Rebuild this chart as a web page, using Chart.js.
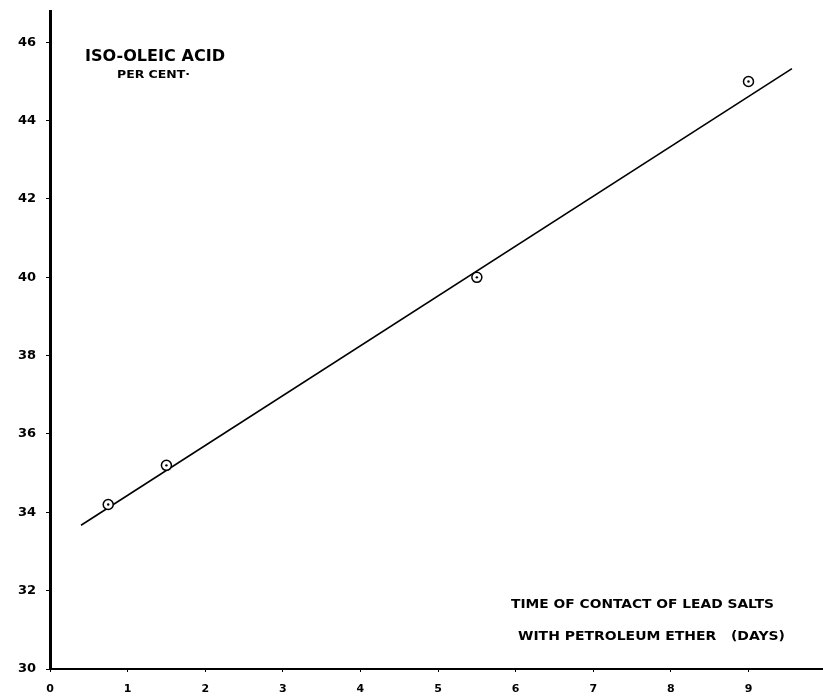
<!DOCTYPE html>
<html>
<head>
<meta charset="utf-8">
<script src="https://cdn.jsdelivr.net/npm/chart.js@4.4.1/dist/chart.umd.min.js"></script>
<style>
  html, body { margin: 0; padding: 0; background: #fff; }
</style>
</head>
<body>
<canvas id="chart" width="823" height="697"></canvas>
<script>
// measured points (days of contact vs per cent iso-oleic acid)
const days = [0.75, 1.5, 5.5, 9];
const isoOleic = [34.2, 35.2, 40.0, 45.0];

// hand-drawn straight line through the points
const fitDays = [0.4, 9.56];
const fitPct = [33.67, 45.33];

const xTicks = [0, 1, 2, 3, 4, 5, 6, 7, 8, 9];
const yTicks = [30, 32, 34, 36, 38, 40, 42, 44, 46];

const FONT = '"DejaVu Sans", sans-serif';

// text squeezed/stretched to the width it has on the drawing
function drawFitted(ctx, text, x, y, width, size, weight) {
    ctx.save();
    ctx.font = weight + " " + size + "px " + FONT;
    const w = ctx.measureText(text).width;
    ctx.translate(x, y);
    ctx.scale(width / w, 1);
    ctx.textAlign = "left";
    ctx.textBaseline = "middle";
    ctx.fillStyle = "#000";
    ctx.fillText(text, 0, 0);
    ctx.restore();
}

const notes = {
    id: "notes",
    afterDatasetsDraw(chart) {
        const ctx = chart.ctx;
        drawFitted(ctx, "ISO-OLEIC ACID", 85, 57, 140, 15, "bold");
        drawFitted(ctx, "PER CENT·", 117, 75, 73, 10, "bold");
        drawFitted(ctx, "TIME OF CONTACT OF LEAD SALTS", 511, 605, 263, 13, "600");
        drawFitted(ctx, "WITH PETROLEUM ETHER   (DAYS)", 518, 637, 267, 13, "600");
    }
};

const pts = days.map((d, i) => ({ x: d, y: isoOleic[i] }));
const fit = fitDays.map((d, i) => ({ x: d, y: fitPct[i] }));

new Chart(document.getElementById("chart"), {
    type: "scatter",
    data: {
        datasets: [
            {
                data: fit,
                showLine: true,
                borderColor: "#000",
                borderWidth: 1.6,
                pointRadius: 0,
                order: 3
            },
            {
                data: pts,
                pointRadius: 5,
                pointBorderWidth: 1.5,
                pointBorderColor: "#000",
                pointBackgroundColor: "#fff",
                order: 2
            },
            {
                data: pts,
                pointRadius: 1.2,
                pointBorderWidth: 0,
                pointBackgroundColor: "#000",
                order: 1
            }
        ]
    },
    options: {
        responsive: false,
        animation: false,
        layout: { autoPadding: false, padding: { top: 11, right: 0, left: 0, bottom: 0 } },
        plugins: { legend: { display: false }, tooltip: { enabled: false } },
        scales: {
            x: {
                type: "linear",
                min: 0,
                max: 9.96,
                afterBuildTicks: s => { s.ticks = xTicks.map(v => ({ value: v })); },
                afterFit: s => { s.height = 28; s.paddingLeft = 0; s.paddingRight = 0; },
                border: { display: true, color: "#000", width: 2 },
                grid: { drawOnChartArea: false, drawTicks: true, tickLength: 3, color: "#000" },
                ticks: { color: "#000", padding: 11, font: { family: FONT, size: 11, weight: "bold" } }
            },
            y: {
                type: "linear",
                min: 30,
                max: 46.8,
                afterBuildTicks: s => { s.ticks = yTicks.map(v => ({ value: v })); },
                afterFit: s => { s.width = 50; s.paddingTop = 0; s.paddingBottom = 0; },
                border: { display: true, color: "#000", width: 3 },
                grid: { drawOnChartArea: false, drawTicks: true, tickLength: 4, color: "#000" },
                ticks: { color: "#000", padding: 10, font: { family: FONT, size: 13, weight: "bold" } }
            }
        }
    },
    plugins: [notes]
});
</script>
</body>
</html>
